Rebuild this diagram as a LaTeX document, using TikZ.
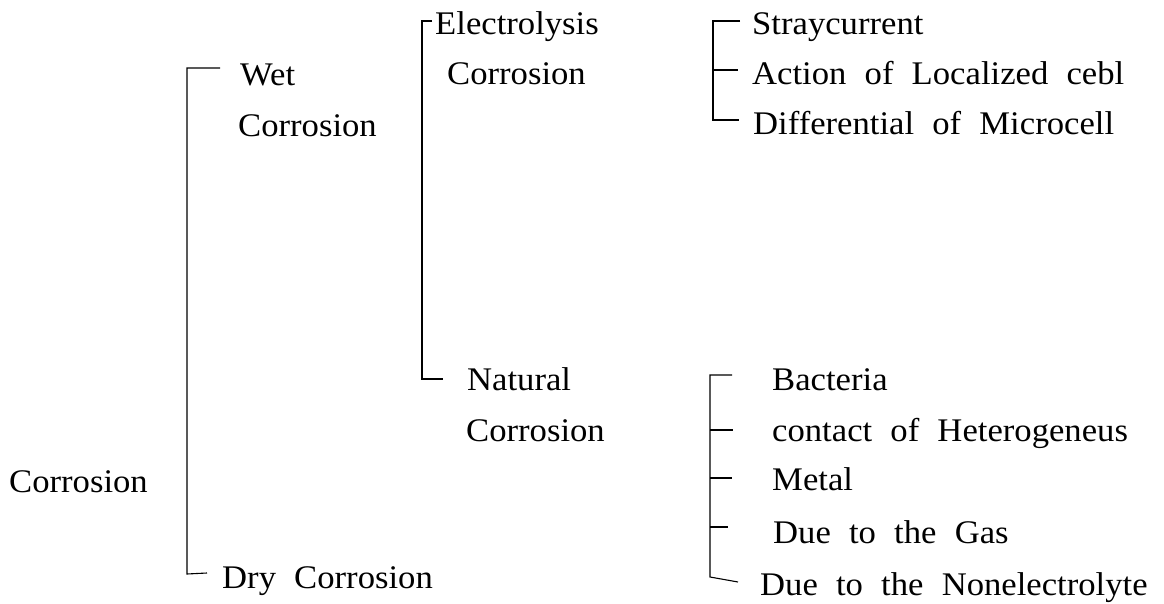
\documentclass[tikz,border=0pt]{standalone}
\usepackage{fontspec}
\setmainfont{Liberation Serif}[FakeStretch=1.05,WordSpace=2.1]
\begin{document}
\begin{tikzpicture}[x=1pt,y=-1pt,
  lbl/.style={anchor=base west,inner sep=0pt,font=\fontsize{33}{33}\selectfont},
  brk/.style={line width=1.1pt,black}]
\useasboundingbox (0,0) rectangle (1164,604);
% labels
\node[lbl] (root) at (9,492) {Corrosion};
\node[lbl] (wet) at (240,86) {Wet};
\node[lbl] (wetc) at (238,137) {Corrosion};
\node[lbl] (dry) at (222,588) {Dry Corrosion};
\node[lbl] (elec) at (435,35) {Electrolysis};
\node[lbl] (elecc) at (447,85) {Corrosion};
\node[lbl] (nat) at (467,390) {Natural};
\node[lbl] (natc) at (466,441) {Corrosion};
\node[lbl] (stray) at (752,35) {Straycurrent};
\node[lbl] (action) at (752,85) {Action of Localized cebl};
\node[lbl] (diff) at (753,135) {Differential of Microcell};
\node[lbl] (bact) at (772,390) {Bacteria};
\node[lbl] (contact) at (772,441) {contact of Heterogeneus};
\node[lbl] (metal) at (772,490) {Metal};
\node[lbl] (gas) at (773,543) {Due to the Gas};
\node[lbl] (nonel) at (760,595) {Due to the Nonelectrolyte};
% bracket 1 (Corrosion)
\coordinate (a1) at (187,68);  \coordinate (a1e) at (220,68);
\coordinate (a2) at (187,574); \coordinate (a2e) at (207,573);
\draw[brk] (a1e) -- (a1) -- (a2) -- (a2e);
% bracket 2 (Wet Corrosion)
\coordinate (b1) at (422,21);  \coordinate (b1e) at (432,21);
\coordinate (b2) at (422,379); \coordinate (b2e) at (443,379);
\draw[brk] (b1e) -- (b1) -- (b2) -- (b2e);
% bracket 3 (Electrolysis Corrosion)
\coordinate (c1) at (713,21);  \coordinate (c1e) at (740,21);
\coordinate (c2) at (713,70);  \coordinate (c2e) at (738,70);
\coordinate (c3) at (713,120); \coordinate (c3e) at (739,120);
\draw[brk] (c1e) -- (c1) -- (c3) -- (c3e);
\draw[brk] (c2) -- (c2e);
% bracket 4 (Natural Corrosion)
\coordinate (d1) at (710,375); \coordinate (d1e) at (732,375);
\coordinate (d2) at (710,430); \coordinate (d2e) at (733,430);
\coordinate (d3) at (710,478); \coordinate (d3e) at (732,478);
\coordinate (d4) at (710,527); \coordinate (d4e) at (728,527);
\coordinate (d5) at (710,577); \coordinate (d5e) at (738,582);
\draw[brk] (d1e) -- (d1) -- (d5) -- (d5e);
\draw[brk] (d2) -- (d2e);
\draw[brk] (d3) -- (d3e);
\draw[brk] (d4) -- (d4e);
\end{tikzpicture}
\end{document}
